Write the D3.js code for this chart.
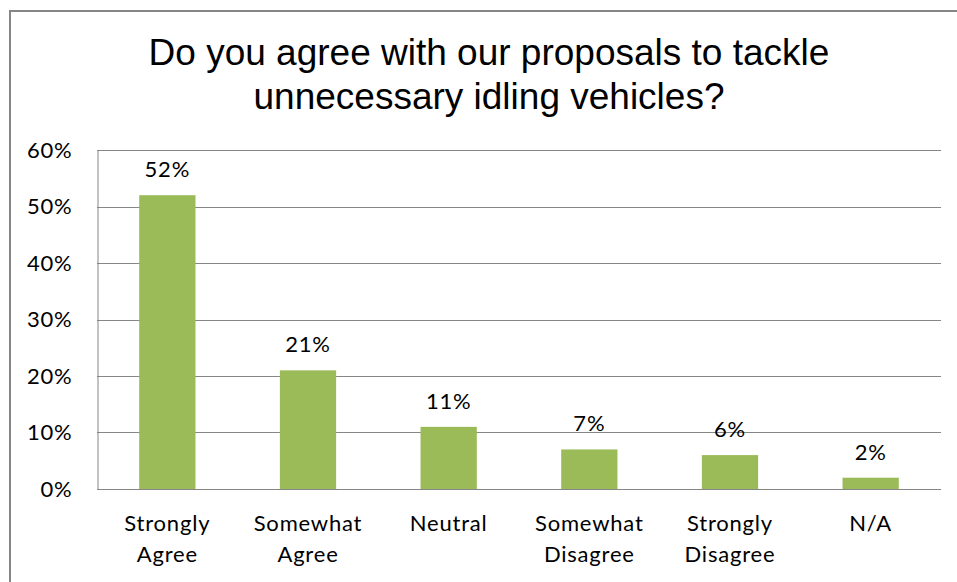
<!DOCTYPE html>
<html><head><meta charset="utf-8">
<script src="https://cdn.jsdelivr.net/npm/d3@7"></script>
<style>body{margin:0;background:#fff;}svg{display:block;}</style>
</head><body>
<svg id="chart" width="957" height="582"></svg>
<script>
const categories = [["Strongly","Agree"],["Somewhat","Agree"],["Neutral"],["Somewhat","Disagree"],["Strongly","Disagree"],["N/A"]];
const values = [0.52, 0.21, 0.11, 0.07, 0.06, 0.02];
const yTicks = [0, 0.1, 0.2, 0.3, 0.4, 0.5, 0.6];
const titleLines = ["Do you agree with our proposals to tackle", "unnecessary idling vehicles?"];

const svg = d3.select("#chart");
const m = {left: 97, right: 941, top: 150, bottom: 489};
const labelFont = "Lato, 'Open Sans', sans-serif";

svg.append("rect").attr("x", 10).attr("y", 11).attr("width", 960).attr("height", 600)
  .attr("fill", "#fff").attr("stroke", "#868686").attr("stroke-width", 2);

svg.append("g").selectAll("text").data(titleLines).join("text")
  .attr("x", 489).attr("y", (d, i) => 65 + i * 44)
  .attr("text-anchor", "middle")
  .attr("font-family", "'Liberation Sans', Arial, sans-serif")
  .attr("font-size", 37).attr("fill", "#000").text(d => d);

const x = d3.scaleBand().domain(d3.range(categories.length)).range([m.left, m.right]).paddingInner(0.6).paddingOuter(0.3);
const y = d3.scaleLinear().domain([0, 0.6]).range([m.bottom, m.top]);

// gridlines
svg.append("g").selectAll("line").data(yTicks.filter(t => t > 0)).join("line")
  .attr("x1", m.left).attr("x2", m.right)
  .attr("y1", d => Math.round(y(d)) + 0.5).attr("y2", d => Math.round(y(d)) + 0.5)
  .attr("stroke", "#868686").attr("stroke-width", 1);

// y axis
const yAxis = svg.append("g").attr("transform", `translate(${m.left + 0.5},0)`)
  .call(d3.axisLeft(y).tickValues(yTicks).tickFormat(d3.format(".0%")).tickSize(0).tickPadding(25));
yAxis.select(".domain").attr("stroke", "#868686");
yAxis.selectAll("text").attr("font-family", labelFont).attr("font-size", 22).attr("letter-spacing", 0.8).attr("fill", "#000");

// bars
svg.append("g").selectAll("rect").data(values).join("rect")
  .attr("x", (d, i) => x(i)).attr("width", x.bandwidth())
  .attr("y", d => y(d)).attr("height", d => y(0) - y(d))
  .attr("fill", "#9BBB59");

// x axis line
svg.append("line").attr("x1", m.left).attr("x2", m.right)
  .attr("y1", Math.round(y(0)) + 0.5).attr("y2", Math.round(y(0)) + 0.5)
  .attr("stroke", "#868686");

// value labels
svg.append("g").selectAll("text").data(values).join("text")
  .attr("x", (d, i) => x(i) + x.bandwidth() / 2).attr("y", d => y(d) - 18)
  .attr("text-anchor", "middle").attr("font-family", labelFont).attr("font-size", 22).attr("letter-spacing", 0.8).attr("fill", "#000")
  .text(d => d3.format(".0%")(d));

// category labels
const cat = svg.append("g").selectAll("text").data(categories).join("text")
  .attr("x", (d, i) => x(i) + x.bandwidth() / 2).attr("y", 531)
  .attr("text-anchor", "middle").attr("font-family", labelFont).attr("font-size", 22).attr("letter-spacing", 0.8).attr("fill", "#000");
cat.selectAll("tspan").data(d => d).join("tspan")
  .attr("x", function() { return d3.select(this.parentNode).attr("x"); })
  .attr("dy", (d, i) => i === 0 ? 0 : 31).text(d => d);
</script>
</body></html>
